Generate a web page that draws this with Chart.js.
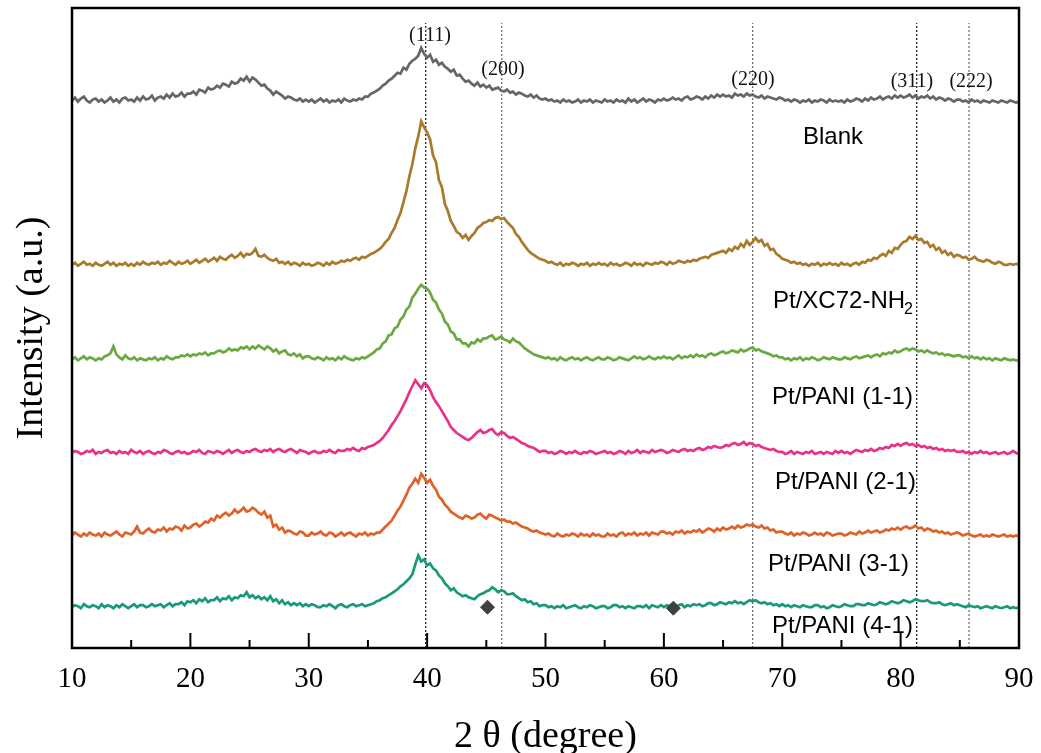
<!DOCTYPE html>
<html>
<head>
<meta charset="utf-8">
<title>XRD patterns</title>
<script src="https://cdn.jsdelivr.net/npm/chart.js@4.4.0/dist/chart.umd.min.js"></script>
<style>
  html, body { margin: 0; padding: 0; background: #fff; }
  canvas { display: block; }
</style>
</head>
<body>
<canvas id="xrd" width="1041" height="753"></canvas>
<script>
// 2theta grid: 10..90 deg, every 0.25 deg
const start = 10, step = 0.25;

// intensities above each trace's own baseline (a.u.), one row = 5 deg
const blank = [2,5,1,4,6,2,0,3,4,1,3,0,2,5,1,3,0,4,5,2,
  3,1,5,2,6,3,4,7,2,5,6,4,8,5,9,6,7,10,6,9,
  9,11,8,13,12,10,15,13,14,17,15,19,18,16,21,19,20,24,22,26,
  21,25,23,20,17,18,14,12,8,11,9,7,4,6,5,3,2,4,1,3,
  1,3,0,2,4,1,3,0,2,1,3,0,4,2,1,3,2,4,3,6,
  6,9,10,12,14,17,19,22,24,27,30,29,35,33,39,42,44,47,55,49,
  45,48,41,43,38,40,36,34,31,33,27,28,24,21,22,19,17,20,16,18,
  15,17,13,14,15,12,11,13,10,11,8,10,9,7,6,8,5,7,4,3,
  4,2,3,1,2,0,3,1,2,0,1,3,0,2,1,3,0,2,1,0,
  3,1,2,0,3,1,2,0,4,1,3,0,2,4,1,3,2,0,3,2,
  4,2,3,5,3,4,2,5,6,3,4,6,5,3,6,4,7,5,8,6,
  8,6,7,5,9,7,8,6,9,7,8,6,5,7,4,6,5,4,3,5,
  4,2,3,1,3,2,0,2,1,3,0,2,1,3,2,0,3,1,2,1,
  2,0,3,1,2,4,3,1,4,2,5,3,4,6,3,5,6,4,7,5,
  7,5,6,8,5,7,4,6,5,7,4,6,3,5,4,2,4,3,1,3,
  3,1,2,0,3,1,2,0,2,1,0,2,1,0,2,1,0,2,1,0,
  1];
const xc72 = [1,3,0,2,4,1,2,0,3,1,0,2,4,1,3,0,2,1,3,0,
  2,0,3,1,4,2,1,3,2,4,1,3,2,5,3,1,4,2,3,5,
  2,4,6,3,5,7,4,6,8,5,9,7,6,9,11,8,10,13,9,12,
  11,13,17,10,9,11,8,6,5,7,3,4,2,4,1,3,2,0,3,1,
  2,0,1,3,2,0,3,1,4,2,3,5,4,6,5,7,8,6,9,8,
  10,12,13,15,17,20,24,27,33,38,46,53,64,75,90,102,118,130,145,139,
  134,127,111,104,86,79,62,55,45,40,34,32,28,31,26,30,33,38,40,43,
  44,46,45,48,49,47,48,44,41,38,32,29,24,20,16,13,11,9,7,6,
  5,3,4,2,1,3,0,2,1,3,2,0,2,1,3,0,2,1,3,1,
  2,0,3,1,2,0,1,3,2,0,3,1,2,0,3,2,1,3,2,4,
  3,1,4,2,3,5,4,3,5,4,6,5,7,8,9,8,11,12,13,14,
  15,13,17,15,19,17,22,19,25,21,24,28,24,26,20,22,16,17,12,10,
  7,6,5,3,4,2,3,1,2,0,2,1,3,0,2,1,3,1,2,0,
  3,1,2,0,2,3,1,4,3,6,5,8,7,10,12,10,15,13,18,17,
  21,24,25,29,27,30,26,27,23,24,19,21,16,18,13,15,11,13,9,11,
  10,8,9,6,7,9,6,5,4,6,5,3,2,4,3,1,1,2,1,2,
  1];
const pani11 = [1,3,0,2,4,1,3,2,0,2,1,4,5,7,14,6,3,1,5,2,
  1,3,0,2,1,0,2,1,3,0,2,1,4,2,1,3,3,5,4,6,
  4,6,5,7,6,8,5,7,7,9,10,8,9,12,10,11,10,13,12,14,
  11,14,12,15,13,11,14,12,9,11,7,9,10,6,5,7,4,6,2,4,
  4,2,1,3,2,0,3,1,2,0,3,1,4,2,1,0,2,1,3,2,
  4,6,8,11,12,17,19,25,26,32,34,41,44,51,54,63,67,72,76,73,
  72,68,61,58,51,47,39,36,29,27,21,21,17,17,14,18,17,21,19,22,
  22,24,25,21,22,24,21,20,18,22,19,18,15,12,10,8,6,5,4,3,
  2,3,1,2,0,3,1,0,2,3,1,2,0,2,3,1,0,2,3,1,
  1,3,2,0,1,3,2,1,0,2,4,2,3,1,2,4,2,1,3,2,
  4,2,3,1,3,5,2,4,3,5,3,6,4,5,3,6,7,5,6,8,
  9,7,8,10,9,8,11,9,10,12,13,10,11,9,8,7,6,4,5,3,
  3,1,2,0,2,1,3,0,2,1,3,2,0,1,3,2,1,3,2,1,
  1,3,2,1,3,4,2,3,4,5,3,5,6,4,7,6,8,7,10,8,
  9,11,12,10,12,11,9,10,8,10,8,7,8,6,7,5,6,5,4,5,
  5,3,4,2,4,2,3,1,3,1,2,0,2,1,0,2,1,0,1,0,
  0];
const pani21 = [1,3,2,0,1,3,2,4,0,2,1,3,4,1,2,0,3,1,2,0,
  4,2,1,3,0,2,3,1,0,2,1,4,3,1,0,2,3,1,2,0,
  1,3,2,4,1,0,3,2,1,3,2,0,2,4,1,3,4,2,1,3,
  2,4,5,3,2,4,3,5,2,4,5,3,2,4,5,3,1,4,3,2,
  0,2,3,1,1,3,2,4,2,1,4,3,3,5,4,6,4,3,6,5,
  7,8,9,11,13,16,20,24,29,33,38,43,49,55,62,68,74,70,66,71,
  69,64,57,52,48,43,38,33,27,24,21,19,17,15,14,16,19,22,24,21,
  22,24,25,21,19,22,21,18,16,17,15,13,11,10,8,7,6,4,2,3,
  3,1,2,0,1,3,2,0,2,1,3,1,0,2,1,3,2,0,1,2,
  3,1,2,0,1,3,2,0,3,1,2,4,1,3,2,1,4,2,3,4,
  3,1,2,4,3,2,4,5,3,4,3,5,6,4,5,7,6,8,7,6,
  7,9,8,10,11,9,10,12,9,11,10,8,9,7,6,5,4,5,3,2,
  2,0,1,3,0,2,1,0,2,1,3,0,1,2,0,2,1,0,3,1,
  3,1,2,0,2,4,3,2,4,3,5,3,4,6,5,7,6,9,8,10,
  8,10,11,9,10,8,9,7,8,6,7,5,6,4,5,3,4,3,4,2,
  2,3,1,2,0,2,1,3,1,2,0,1,2,0,1,2,0,1,3,1,
  0];
const pani31 = [1,4,2,0,3,1,4,2,1,3,0,4,2,1,3,5,2,0,4,3,
  2,5,10,4,3,6,8,5,4,7,6,9,5,8,7,10,9,6,11,8,
  9,12,13,10,12,15,14,18,16,21,19,22,24,21,23,27,24,26,29,25,
  26,29,27,24,22,25,19,21,10,12,7,9,4,6,5,3,2,5,4,1,
  1,4,2,3,5,2,1,4,3,0,2,4,1,3,4,2,0,3,2,4,
  1,3,2,4,4,7,10,13,16,21,26,30,36,42,49,53,58,54,63,59,
  54,57,51,47,40,37,32,29,25,23,21,19,18,21,20,18,19,22,23,20,
  18,22,21,19,18,16,17,15,15,13,14,12,10,9,8,6,5,6,4,3,
  2,3,1,0,3,1,0,2,1,3,2,0,3,1,2,0,3,1,2,0,
  0,3,1,2,0,3,4,1,3,2,4,1,3,2,4,1,4,3,2,5,
  5,3,4,2,5,4,6,3,5,4,6,5,7,4,6,8,7,5,8,6,
  9,7,8,10,8,11,9,10,12,11,12,10,9,11,8,9,6,7,4,5,
  5,3,2,4,1,3,2,4,3,1,2,4,2,3,1,4,3,1,2,3,
  3,1,2,4,3,2,5,3,4,6,4,5,6,4,5,7,6,8,7,9,
  7,9,10,8,9,11,8,9,6,8,7,5,6,4,5,3,4,2,3,4,
  3,1,2,3,1,0,1,2,0,1,0,2,1,0,1,2,0,1,0,1,
  0];
const pani41 = [1,3,2,0,4,2,1,3,2,0,4,1,3,2,0,3,1,4,2,0,
  2,4,1,3,3,1,2,4,2,3,4,1,3,5,2,4,4,6,3,7,
  6,8,5,9,7,10,6,8,8,11,7,10,9,12,8,11,10,13,12,16,
  11,13,10,12,9,11,8,12,7,9,5,8,4,6,3,5,3,5,2,4,
  2,4,3,1,1,3,2,4,2,0,3,4,2,1,3,4,2,3,4,2,
  3,4,5,7,8,10,11,13,15,17,19,22,24,27,30,34,44,53,47,49,
  43,45,40,38,33,30,25,22,18,20,16,14,12,13,11,10,9,12,14,15,
  17,18,21,19,16,18,17,14,14,15,12,10,8,9,6,7,4,5,2,3,
  3,1,2,0,2,1,3,0,1,2,3,1,0,2,1,3,2,0,1,2,
  2,0,1,3,3,1,2,0,2,1,0,2,2,1,3,0,3,2,1,3,
  1,3,2,4,2,3,4,1,3,2,4,3,4,2,3,5,5,3,4,6,
  5,4,6,5,7,5,6,4,6,8,7,8,6,5,6,4,5,3,4,2,
  4,2,3,1,3,2,1,3,2,1,1,3,3,1,2,0,1,3,2,1,
  2,4,3,2,2,4,4,3,3,5,4,3,4,6,5,4,5,7,6,5,
  6,8,7,6,7,9,8,7,7,8,6,5,5,6,4,3,4,5,3,4,
  3,2,1,3,2,1,2,0,1,2,1,0,2,1,0,1,2,0,1,0,
  1];

const names = ['Blank', 'Pt/XC72-NH2', 'Pt/PANI (1-1)', 'Pt/PANI (2-1)', 'Pt/PANI (3-1)', 'Pt/PANI (4-1)'];
const offsets = [548, 384, 289, 195, 112, 40];   // vertical stacking of traces

// Pt reflections
const peakPos = [39.88, 46.3, 67.5, 81.36, 85.78];
const peakHkl = ['(111)', '(200)', '(220)', '(311)', '(222)'];

// diamond markers on the bottom trace
const markerPos = [45.1, 60.8];
const markerY = [41, 40];

// ---- styling / placement ----
const colors = ['#666666', '#a97a2c', '#6aa942', '#e8318b', '#de6229', '#18997a'];
const hklX = [40.24, 46.41, 67.53, 80.96, 85.95];
const hklY = [615, 581, 571, 569, 569];
const nameX = [71.75, 69.22, 69.13, 69.39, 68.8, 69.13];
const nameY = [506, 342, 245, 160, 77, 15];
const serif = '"Liberation Serif", "Times New Roman", serif';
const sans = '"Liberation Sans", Arial, sans-serif';

const twoTheta = blank.map((_, i) => start + i * step);
const series = [blank, xc72, pani11, pani21, pani31, pani41];

const datasets = series.map((vals, k) => ({
  label: names[k],
  data: vals.map((v, i) => ({ x: twoTheta[i], y: v + offsets[k] })),
  borderColor: colors[k],
  borderWidth: 2.7,
  pointRadius: 0,
  tension: 0,
  fill: false,
  order: 1
}));

peakPos.forEach((p, i) => {
  datasets.push({
    data: [{ x: p, y: 0 }, { x: p, y: 628 }],
    borderColor: (i === 0 || i === 3) ? '#111' : '#666',
    borderWidth: 1.2,
    borderDash: [2, 2],
    pointRadius: 0,
    order: 2
  });
});

datasets.push({
  type: 'scatter',
  data: markerPos.map((p, i) => ({ x: p, y: markerY[i] })),
  pointStyle: 'rectRot',
  pointRadius: 7,
  backgroundColor: '#404040',
  borderColor: '#404040',
  order: 0
});

const decor = {
  id: 'decor',
  afterDatasetsDraw(chart) {
    const { ctx, chartArea: a, scales: { x, y } } = chart;
    ctx.save();
    // frame
    ctx.strokeStyle = '#000';
    ctx.lineWidth = 2.5;
    ctx.strokeRect(a.left, a.top, a.right - a.left, a.bottom - a.top);
    // inward ticks on the bottom axis
    ctx.lineWidth = 2;
    for (let v = 10; v <= 90; v += 5) {
      const px = x.getPixelForValue(v);
      const len = v % 10 === 0 ? 15 : 8;
      ctx.beginPath();
      ctx.moveTo(px, a.bottom);
      ctx.lineTo(px, a.bottom - len);
      ctx.stroke();
    }
    // hkl labels
    ctx.fillStyle = '#111';
    ctx.font = '20px ' + serif;
    ctx.textAlign = 'center';
    ctx.textBaseline = 'middle';
    peakHkl.forEach((t, i) => ctx.fillText(t, x.getPixelForValue(hklX[i]), y.getPixelForValue(hklY[i])));
    // sample names
    ctx.fillStyle = '#000';
    ctx.textAlign = 'left';
    ctx.textBaseline = 'alphabetic';
    names.forEach((t, i) => {
      const px = x.getPixelForValue(nameX[i]);
      const py = y.getPixelForValue(nameY[i]);
      ctx.font = '24px ' + sans;
      if (t.endsWith('NH2')) {
        const main = t.slice(0, -1);
        ctx.fillText(main, px, py);
        const w = ctx.measureText(main).width;
        ctx.font = '16px ' + sans;
        ctx.fillText('2', px + w - 1, py + 6);
      } else {
        ctx.fillText(t, px, py);
      }
    });
    ctx.restore();
  }
};

new Chart(document.getElementById('xrd'), {
  type: 'line',
  data: { datasets },
  options: {
    responsive: false,
    animation: false,
    devicePixelRatio: 1,
    layout: { padding: { top: 5, right: 22, left: 0, bottom: 0 } },
    plugins: { legend: { display: false }, tooltip: { enabled: false } },
    scales: {
      x: {
        type: 'linear',
        min: 10,
        max: 90,
        grid: { display: false, drawTicks: false },
        border: { display: false },
        ticks: { stepSize: 10, color: '#000', padding: 14, maxRotation: 0, font: { family: serif, size: 29 } },
        title: { display: true, text: '2 θ (degree)', color: '#000', padding: 0, font: { family: serif, size: 38, lineHeight: 0.84 } },
        afterFit(s) { s.height = 105; s.paddingLeft = 0; s.paddingRight = 0; }
      },
      y: {
        min: 0,
        max: 643,
        grid: { display: false, drawTicks: false },
        border: { display: false },
        ticks: { display: false },
        title: { display: true, text: 'Intensity (a.u.)', color: '#000', padding: { top: 9, bottom: 0 }, font: { family: serif, size: 38 } },
        afterFit(s) { s.width = 72; s.paddingTop = 0; s.paddingBottom = 0; }
      }
    }
  },
  plugins: [decor]
});
</script>
</body>
</html>
